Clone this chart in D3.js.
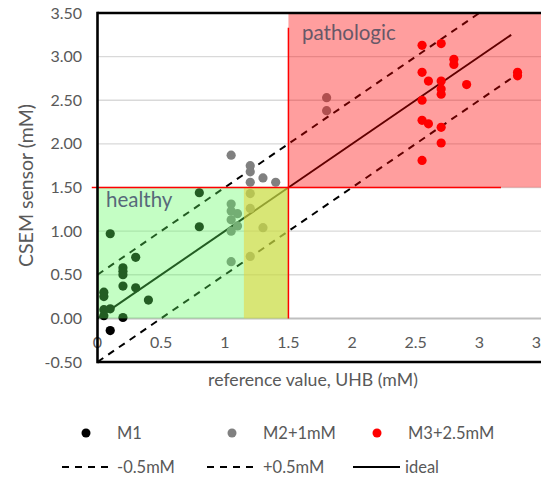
<!DOCTYPE html>
<html><head><meta charset="utf-8">
<script src="https://cdn.jsdelivr.net/npm/d3@7"></script>
<style>body{margin:0;background:#fff;overflow:hidden}svg{display:block}text{font-family:Lato,"Liberation Sans",sans-serif}</style>
</head><body><svg id="c" width="541" height="479"></svg>
<script>
// ---- data ----
const m1X = [0.05,0.05,0.05,0.05,0.1,0.1,0.1,0.2,0.2,0.2,0.2,0.2,0.3,0.3,0.4,0.8,0.8];
const m1Y = [0.30,0.25,0.10,0.03,0.97,0.11,-0.14,0.58,0.54,0.50,0.37,0.01,0.70,0.35,0.21,1.44,1.05];
const m2X = [1.05,1.2,1.2,1.2,1.3,1.4,1.05,1.05,1.1,1.05,1.1,1.05,1.05,1.2,1.2,1.3,1.2,1.8,1.8];
const m2Y = [1.87,1.75,1.68,1.56,1.61,1.56,1.31,1.23,1.20,1.13,1.06,1.00,0.65,1.43,1.26,1.04,0.71,2.53,2.38];
const m3X = [2.55,2.7,2.8,2.8,2.55,2.6,2.7,2.7,2.7,2.9,3.3,3.3,2.55,2.55,2.6,2.7,2.7,2.55];
const m3Y = [3.13,3.15,2.97,2.91,2.82,2.72,2.72,2.63,2.57,2.68,2.82,2.78,2.50,2.27,2.23,2.19,2.01,1.81];
const seriesNames = ["M1","M2+1mM","M3+2.5mM"];
const lineNames = ["-0.5mM","+0.5mM","ideal"];
const lowLine = [[0,-0.5],[3.25,2.75]];
const highLine = [[0,0.5],[3.0,3.5]];
const idealLine = [[0,0],[3.25,3.25]];
const healthyZone = {x0:0, x1:1.5, y0:0, y1:1.5};
const overlapZone = {x0:1.15, x1:1.5, y0:0, y1:1.5};
const pathoZone = {x0:1.5, x1:3.6, y0:1.5, y1:3.5};
const redH = [[-0.045,1.5],[3.17,1.5]];
const redV = [[1.5,3.33],[1.5,0]];
const xTicks = [0,0.5,1,1.5,2,2.5,3,3.5];
const yTicks = [-0.5,0,0.5,1,1.5,2,2.5,3,3.5];

// ---- layout ----
const svg = d3.select("#c");
const x = d3.scaleLinear().domain([0,3.5]).range([97.5,543]);
const y = d3.scaleLinear().domain([-0.5,3.5]).range([362,13]);
const grey = "#595959";

// gridlines
svg.append("g").selectAll("line").data(yTicks.filter(v=>v>-0.5 && v<3.5 && v!==0)).join("line")
  .attr("x1",x(0)).attr("x2",541).attr("y1",d=>y(d)).attr("y2",d=>y(d))
  .attr("stroke","#d9d9d9").attr("stroke-width",1.3);
// zero axis line
svg.append("line").attr("x1",x(0)).attr("x2",541).attr("y1",y(0)).attr("y2",y(0))
  .attr("stroke","#bfbfbf").attr("stroke-width",2);

// x tick labels (below zero line)
svg.append("g").selectAll("text").data(xTicks).join("text")
  .attr("x",d=>x(d)).attr("y",y(0)+30).attr("text-anchor","middle")
  .attr("font-size",16).attr("fill",grey).text(d=>d);
// y tick labels
svg.append("g").selectAll("text").data(yTicks).join("text")
  .attr("x",82).attr("y",d=>y(d)+5.5).attr("text-anchor","end")
  .attr("font-size",16).attr("fill",grey).text(d=>d.toFixed(2));

// reference lines
const line = d3.line().x(d=>x(d[0])).y(d=>y(d[1]));
svg.append("path").attr("d",line(lowLine)).attr("stroke","#000").attr("stroke-width",2).attr("stroke-dasharray","7,6").attr("fill","none");
svg.append("path").attr("d",line(highLine)).attr("stroke","#000").attr("stroke-width",2).attr("stroke-dasharray","7,6").attr("fill","none");
svg.append("path").attr("d",line(idealLine)).attr("stroke","#000").attr("stroke-width",2).attr("fill","none");

// points
function pts(xs, ys, col){
  svg.append("g").selectAll("circle").data(xs.map((v,i)=>[v,ys[i]])).join("circle")
    .attr("cx",d=>x(d[0])).attr("cy",d=>y(d[1])).attr("r",4.6).attr("fill",col);
}
pts(m1X,m1Y,"#000");
pts(m2X,m2Y,"#808080");
pts(m3X,m3Y,"#ff0000");

// translucent zones on top
function zone(z, fill, op){
  svg.append("rect").attr("x",x(z.x0)).attr("y",y(z.y1))
    .attr("width",x(z.x1)-x(z.x0)).attr("height",y(z.y0)-y(z.y1))
    .attr("fill",fill).attr("fill-opacity",op);
}
zone(healthyZone,"rgb(96,252,96)",0.37);
zone(overlapZone,"rgb(232,211,60)",0.57);
zone(pathoZone,"rgb(255,0,0)",0.38);

// red threshold lines
svg.append("path").attr("d",line(redH)).attr("stroke","#ff0000").attr("stroke-width",1.5).attr("fill","none");
svg.append("path").attr("d",line(redV)).attr("stroke","#ff0000").attr("stroke-width",1.5).attr("fill","none");

// zone labels
svg.append("text").attr("x",106).attr("y",207).attr("fill","#56697a")
  .attr("font-family","'DejaVu Sans',sans-serif").attr("font-size",20.5).text("healthy");
svg.append("text").attr("x",302).attr("y",40).attr("font-size",20.5).attr("fill","#685868")
  .attr("font-family","'DejaVu Sans',sans-serif").text("pathologic");

// plot frame
svg.append("line").attr("x1",x(0)).attr("x2",541).attr("y1",y(3.5)).attr("y2",y(3.5)).attr("stroke","#000").attr("stroke-width",2.6);
svg.append("line").attr("x1",x(0)).attr("x2",541).attr("y1",y(-0.5)).attr("y2",y(-0.5)).attr("stroke","#000").attr("stroke-width",2.6);
svg.append("line").attr("x1",x(0)).attr("x2",x(0)).attr("y1",y(3.5)-1.3).attr("y2",y(-0.5)+1.3).attr("stroke","#000").attr("stroke-width",2.6);

// axis titles
svg.append("text").attr("transform",`translate(33,${y(1.5)-2}) rotate(-90)`).attr("text-anchor","middle")
  .attr("font-size",19.5).attr("fill",grey).text("CSEM sensor (mM)");
svg.append("text").attr("x",313).attr("y",386).attr("text-anchor","middle")
  .attr("font-size",17.7).attr("fill",grey).text("reference value, UHB (mM)");

// legend
const legCols = [86,232,377];
const legText = [117,263,408];
const legColors = ["#000","#808080","#ff0000"];
const lg = svg.append("g");
seriesNames.forEach((n,i)=>{
  lg.append("circle").attr("cx",legCols[i]).attr("cy",433).attr("r",4.5).attr("fill",legColors[i]);
  lg.append("text").attr("x",legText[i]).attr("y",439).attr("font-size",16.5).attr("fill",grey).text(n);
});
const lineLeg = [[62,108,117,"7,6"],[207,253,263,"7,6"],[353,400,405,null]];
lineNames.forEach((n,i)=>{
  const [a,b,t,dash] = lineLeg[i];
  const l = lg.append("line").attr("x1",a).attr("x2",b).attr("y1",467).attr("y2",467).attr("stroke","#000").attr("stroke-width",2);
  if(dash) l.attr("stroke-dasharray",dash);
  lg.append("text").attr("x",t).attr("y",473).attr("font-size",16.5).attr("fill",grey).text(n);
});
</script></body></html>
